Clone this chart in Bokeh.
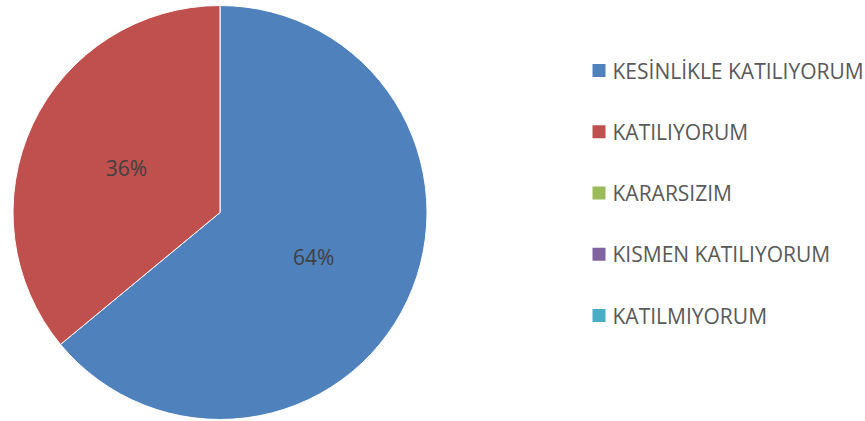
import math
from bokeh.plotting import figure
from bokeh.models import Range1d, ColumnDataSource
from bokeh.embed import file_html
from bokeh.resources import INLINE
from bokeh.core.properties import value

categories = ["KESİNLİKLE KATILIYORUM", "KATILIYORUM", "KARARSIZIM",
              "KISMEN KATILIYORUM", "KATILMIYORUM"]
values = [64, 36, 0, 0, 0]
colors = ["#4F81BD", "#C0504D", "#9BBB59", "#8064A2", "#4BACC6"]

W, H = 865, 421
PAGE_OFF = 0


def py(page_y):
    return H - (page_y - PAGE_OFF)


def px(page_x):
    return page_x - PAGE_OFF


p = figure(width=W, height=H, output_backend="svg", toolbar_location=None,
           x_range=Range1d(0, W), y_range=Range1d(0, H),
           x_axis_type=None, y_axis_type=None, min_border=0)
p.grid.visible = False
p.outline_line_color = None
p.background_fill_color = "white"
p.border_fill_color = "white"

cx, cy, r = px(219.5), py(212), 207
total = float(sum(values))

starts, ends, cols, lx, ly, ltxt = [], [], [], [], [], []
cum = 0.0
for v, c in zip(values, colors):
    if v <= 0:
        continue
    a0 = math.pi / 2 - cum / total * 2 * math.pi
    cum += v
    a1 = math.pi / 2 - cum / total * 2 * math.pi
    starts.append(a0)
    ends.append(a1)
    cols.append(c)
    mid = (a0 + a1) / 2
    lx.append(cx + 0.5 * r * math.cos(mid))
    ly.append(cy + 0.5 * r * math.sin(mid))
    ltxt.append(f"{round(v / total * 100)}%")

src = ColumnDataSource(dict(start=starts, end=ends, color=cols))
p.wedge(x=cx, y=cy, radius=r, start_angle="start", end_angle="end",
        direction="clock", fill_color="color", line_color="white",
        line_width=1, source=src)

p.text(x=lx, y=ly, text=ltxt, text_align="center", text_baseline="middle",
       text_font=value("Open Sans"), text_font_size="21px", text_color="#404040")

# legend
leg_y0, leg_step = 70, 61.25
ys = [py(leg_y0 + i * leg_step) for i in range(len(categories))]
p.rect(x=[px(598.5)] * len(categories), y=ys, width=13, height=13,
       width_units="screen", height_units="screen",
       fill_color=colors, line_color=None)
p.text(x=[px(612)] * len(categories), y=ys, text=categories,
       text_align="left", text_baseline="middle",
       text_font=value("Open Sans"), text_font_size="21px", text_color="#595959")

open("out.html", "w").write(file_html(p, INLINE))
